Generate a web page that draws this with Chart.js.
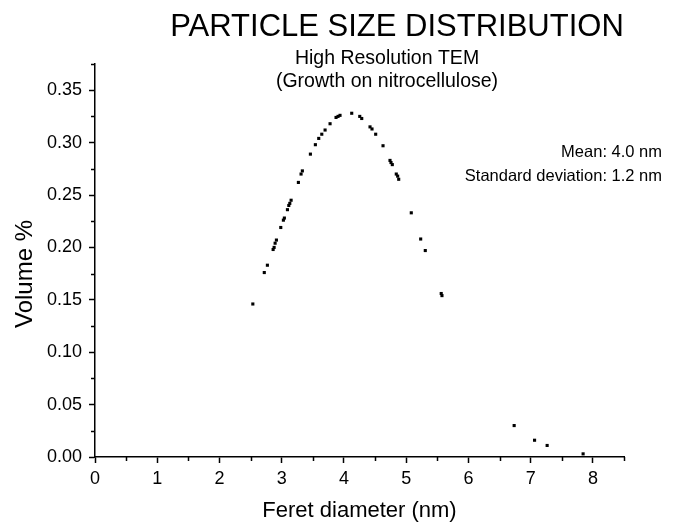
<!DOCTYPE html>
<html lang="en">
<head>
  <meta charset="UTF-8">
  <title>Particle Size Distribution</title>
  <script src="https://cdn.jsdelivr.net/npm/chart.js"></script>
  <style>
    * { box-sizing: border-box; margin: 0; padding: 0; }
    body { background: #fff; }
    canvas { display: block; }
  </style>
</head>
<body>
<canvas id="psd" width="694" height="523"></canvas>
<script>
  // ─── data ────────────────────────────────────────────────────────────────────
  const feretNm = [
    2.536, 2.72, 2.77, 2.862, 2.878, 2.894, 2.915, 2.985, 3.027, 3.043,
    3.092, 3.114, 3.13, 3.151, 3.268, 3.311, 3.332, 3.461, 3.541, 3.595,
    3.644, 3.697, 3.777, 3.873, 3.905, 3.937, 4.125, 4.254, 4.286, 4.419,
    4.451, 4.51, 4.628, 4.74, 4.756, 4.777, 4.841, 4.863, 4.88, 5.082,
    5.233, 5.307, 5.563, 5.575, 6.735, 7.063, 7.265, 7.843
  ];
  const volumePct = [
    0.146, 0.176, 0.183, 0.198, 0.200, 0.204, 0.207, 0.219, 0.226, 0.228,
    0.236, 0.240, 0.242, 0.245, 0.262, 0.270, 0.273, 0.289, 0.298, 0.304,
    0.308, 0.312, 0.318, 0.324, 0.325, 0.326, 0.328, 0.325, 0.323, 0.315,
    0.313, 0.308, 0.297, 0.283, 0.281, 0.279, 0.270, 0.268, 0.265, 0.233,
    0.208, 0.197, 0.156, 0.154, 0.030, 0.016, 0.011, 0.003
  ];

  const xTicks      = [0, 1, 2, 3, 4, 5, 6, 7, 8];
  const xMinorTicks = [0.5, 1.5, 2.5, 3.5, 4.5, 5.5, 6.5, 7.5, 8.5];
  const yTicks      = [0, 0.05, 0.10, 0.15, 0.20, 0.25, 0.30, 0.35];
  const yMinorTicks = [0.025, 0.075, 0.125, 0.175, 0.225, 0.275, 0.325, 0.375];

  const FONT = 'Arial, "Liberation Sans", sans-serif';

  // texts drawn straight on the canvas, placed like the original
  const labelsPlugin = {
    id: 'labels',
    afterDraw(chart) {
      const ctx = chart.ctx;
      ctx.save();
      ctx.fillStyle = '#000';
      ctx.textBaseline = 'alphabetic';

      ctx.textAlign = 'center';
      ctx.font = '31px ' + FONT;
      ctx.fillText('PARTICLE SIZE DISTRIBUTION', 397, 36);
      ctx.font = '19.5px ' + FONT;
      ctx.fillText('High Resolution TEM', 387, 64);
      ctx.fillText('(Growth on nitrocellulose)', 387, 87);

      ctx.textAlign = 'right';
      ctx.font = '16.5px ' + FONT;
      ctx.fillText('Mean: 4.0 nm', 662, 157);
      ctx.fillText('Standard deviation: 1.2 nm', 662, 181);

      // y axis title
      ctx.translate(25, 274);
      ctx.rotate(-Math.PI / 2);
      ctx.textAlign = 'center';
      ctx.textBaseline = 'middle';
      ctx.font = '24px ' + FONT;
      ctx.fillText('Volume %', 0, 0);
      ctx.restore();

      // minor ticks
      const { x, y } = chart.scales;
      ctx.save();
      ctx.strokeStyle = '#000';
      ctx.lineWidth = 1.5;
      ctx.beginPath();
      xMinorTicks.forEach(v => {
        const px = Math.round(x.getPixelForValue(v)) + 0.5;
        ctx.moveTo(px, y.bottom);
        ctx.lineTo(px, y.bottom + 4);
      });
      yMinorTicks.forEach(v => {
        const py = Math.round(y.getPixelForValue(v)) + 0.5;
        ctx.moveTo(x.left, py);
        ctx.lineTo(x.left - 4, py);
      });
      ctx.stroke();
      ctx.restore();
    }
  };

  new Chart(document.getElementById('psd'), {
    type: 'scatter',
    data: {
      datasets: [{
        data: feretNm.map((v, i) => ({ x: v, y: volumePct[i] })),
        pointStyle: 'rect',
        pointRadius: 2.2,
        pointBorderWidth: 0,
        backgroundColor: '#000',
        borderColor: '#000',
      }]
    },
    options: {
      responsive: false,
      animation: false,
      devicePixelRatio: 1,
      layout: { padding: { top: 64, right: 70, left: 0, bottom: 0 } },
      plugins: { legend: { display: false }, tooltip: { enabled: false } },
      scales: {
        x: {
          type: 'linear',
          min: 0,
          max: 8.5,
          afterBuildTicks: s => { s.ticks = xTicks.map(v => ({ value: v })); },
          afterFit: s => { s.height = 66; },
          border: { display: true, color: '#000', width: 1.5 },
          grid: { drawOnChartArea: false, drawTicks: true, tickLength: 6, tickColor: '#000', tickWidth: 1.5 },
          ticks: { color: '#000', font: { family: FONT, size: 18 }, padding: 5, maxRotation: 0 },
          title: {
            display: true,
            text: 'Feret diameter (nm)',
            color: '#000',
            font: { family: FONT, size: 22, lineHeight: 1 },
            padding: { top: 0, bottom: 1 }
          }
        },
        y: {
          type: 'linear',
          min: 0,
          max: 0.375,
          afterBuildTicks: s => { s.ticks = yTicks.map(v => ({ value: v })); },
          afterFit: s => { s.width = 95; },
          border: { display: true, color: '#000', width: 1.5 },
          grid: { drawOnChartArea: false, drawTicks: true, tickLength: 6, tickColor: '#000', tickWidth: 1.5 },
          ticks: {
            color: '#000',
            font: { family: FONT, size: 18 },
            padding: 7,
            callback: v => v.toFixed(2)
          }
        }
      }
    },
    plugins: [labelsPlugin]
  });
</script>
</body>
</html>
